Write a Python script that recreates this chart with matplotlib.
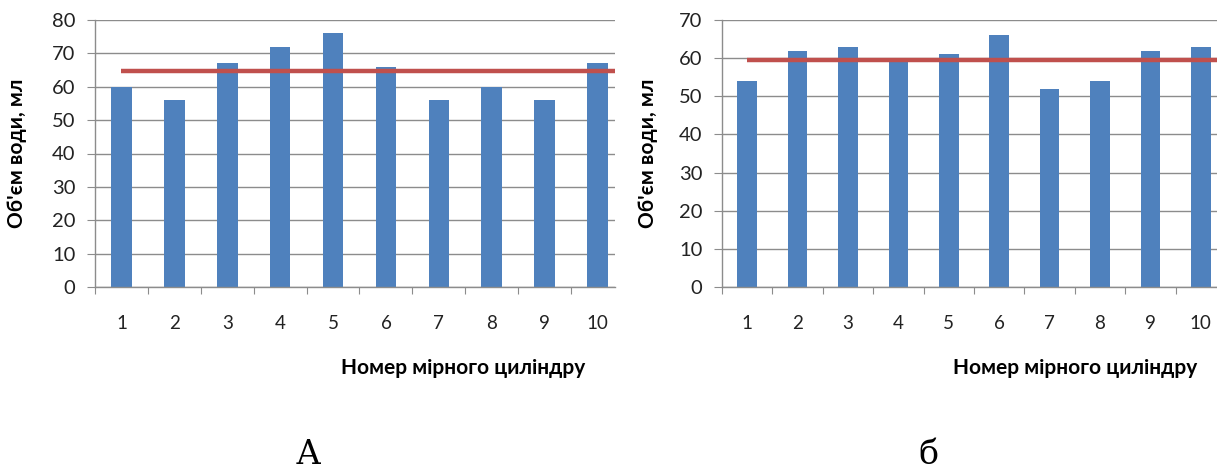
import matplotlib
matplotlib.use("Agg")
import matplotlib.pyplot as plt
from matplotlib.ticker import FixedLocator, NullFormatter

# ---- data ----
cylinders = [1, 2, 3, 4, 5, 6, 7, 8, 9, 10]
volume_a = [60, 56, 67, 72, 76, 66, 56, 60, 56, 67]
volume_b = [54, 62, 63, 60, 61, 66, 52, 54, 62, 63]
mean_a = 64.6
mean_b = 59.6
ymax_a = 80
ymax_b = 70
panel_labels = ["А", "б"]
ylabel = "Об'єм води, мл"
xlabel = "Номер мірного циліндру"

BAR = "#4F81BD"
LINE = "#C0504D"
GRID = "#8C8C8C"

plt.rcParams["font.family"] = ["Lato", "DejaVu Sans"]

fig = plt.figure(figsize=(12.17, 4.70), dpi=100)
W, H = 1217, 470


def px_axes(x0, x1, y_top, y_bot):
    return fig.add_axes([x0 / W, 1 - y_bot / H, (x1 - x0) / W, (y_bot - y_top) / H])


def draw_panel(ax, values, mean, ymax, xright):
    ax.bar(cylinders, values, width=0.39, color=BAR, zorder=2)
    ax.plot([cylinders[0], xright + 1], [mean, mean], color=LINE, lw=3.2,
            solid_capstyle="butt", zorder=3)
    ax.set_xlim(0.5, xright)
    ax.set_ylim(0, ymax)
    ax.set_yticks(range(0, ymax + 1, 10))
    ax.yaxis.grid(True, color=GRID, lw=1.0, zorder=0)
    ax.set_axisbelow(True)
    for s in ["top", "right"]:
        ax.spines[s].set_visible(False)
    for s in ["left", "bottom"]:
        ax.spines[s].set_color(GRID)
        ax.spines[s].set_linewidth(1.0)
    # ticks at category boundaries, labels in the middle
    ax.xaxis.set_major_locator(FixedLocator([c - 0.5 for c in cylinders] + [10.5]))
    ax.xaxis.set_major_formatter(NullFormatter())
    ax.xaxis.set_minor_locator(FixedLocator(cylinders))
    ax.set_xticklabels([str(c) for c in cylinders], minor=True)
    ax.tick_params(axis="x", which="major", length=5, color=GRID, direction="out")
    ax.tick_params(axis="x", which="minor", length=0, pad=20, labelsize=13.5,
                   labelcolor="#222222")
    ax.tick_params(axis="y", length=6, color=GRID, labelsize=14.5, pad=8,
                   labelcolor="#222222")
    ax.set_ylabel(ylabel, fontsize=15, fontweight="bold")


ax1 = px_axes(95, 615, 20, 287)
draw_panel(ax1, volume_a, mean_a, ymax_a, 10.33)
ax1.yaxis.set_label_coords(-68 / 520, 0.5)

ax2 = px_axes(722, 1217, 20, 287)
draw_panel(ax2, volume_b, mean_b, ymax_b, 10.32)
ax2.yaxis.set_label_coords(-64 / 495, 0.5)

fig.text(463 / W, 1 - 368 / H, xlabel, fontsize=15, fontweight="bold",
         ha="center", va="center")
fig.text(1075 / W, 1 - 368 / H, xlabel, fontsize=15, fontweight="bold",
         ha="center", va="center")

fig.text(308 / W, 1 - 455 / H, panel_labels[0], fontsize=24,
         family="DejaVu Serif", ha="center", va="center")
fig.text(928 / W, 1 - 455 / H, panel_labels[1], fontsize=24,
         family="DejaVu Serif", ha="center", va="center")

fig.savefig("out.png", dpi=100)
